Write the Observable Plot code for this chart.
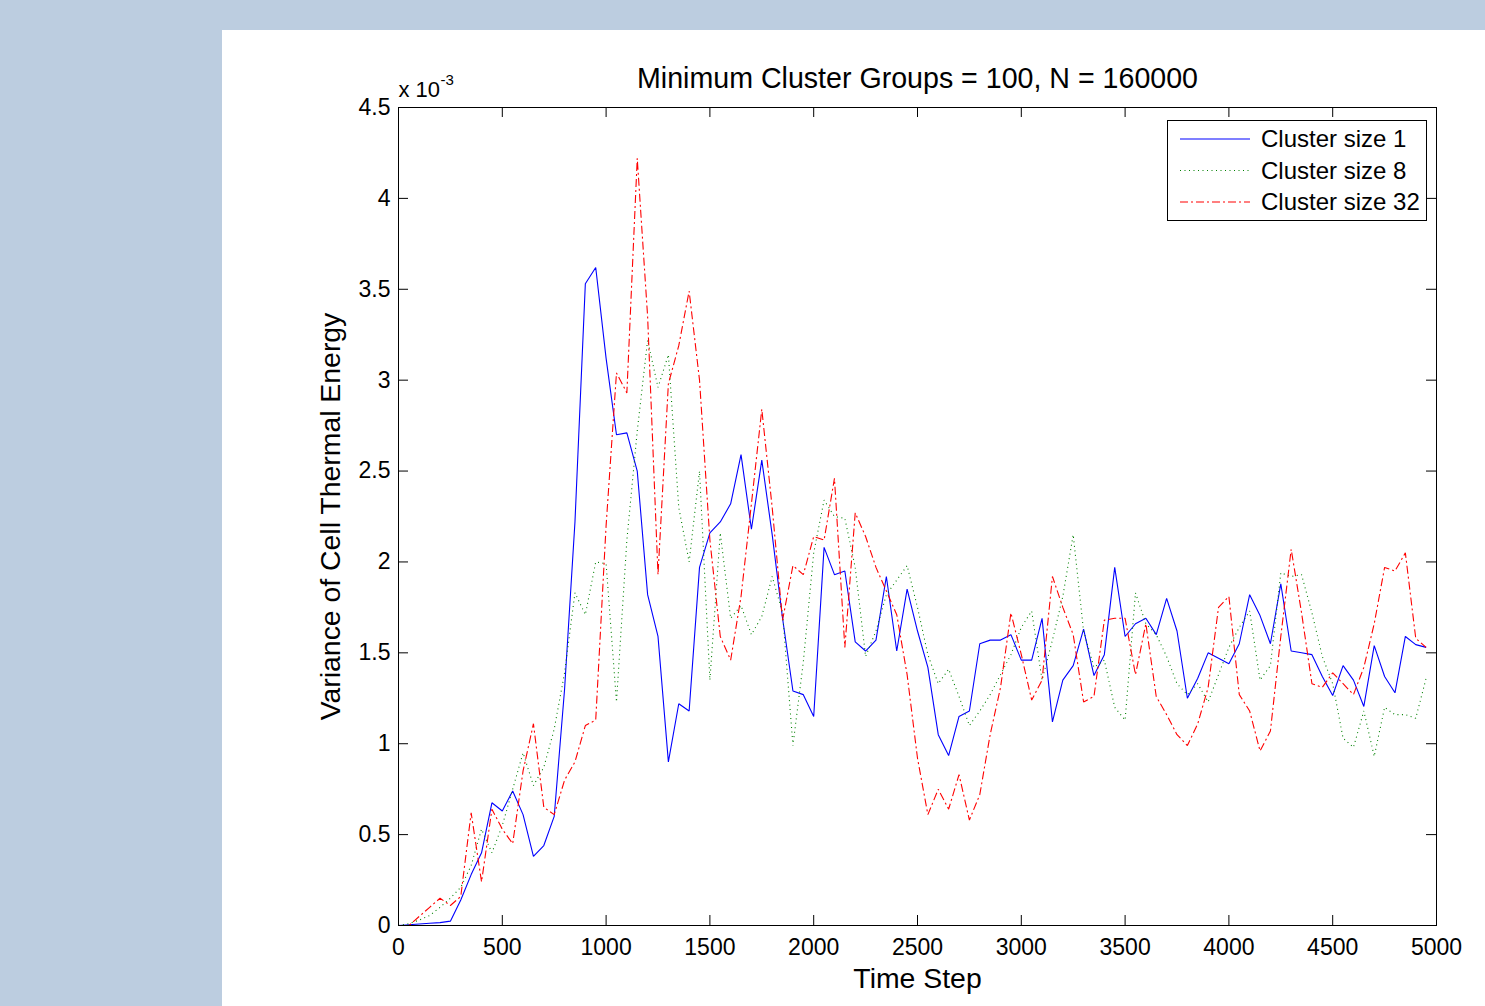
<!DOCTYPE html>
<html>
<head>
<meta charset="utf-8">
<script src="https://cdn.jsdelivr.net/npm/d3@7"></script>
<script src="https://cdn.jsdelivr.net/npm/@observablehq/plot@0.6"></script>
<style>
  html, body { margin: 0; padding: 0; }
  body { width: 1485px; height: 1006px; background: #bccde0; position: relative; overflow: hidden; }
  #panel { position: absolute; left: 222px; top: 30px; width: 1263px; height: 976px; background: #ffffff; }
  #legend { position: absolute; left: 0; top: 0; pointer-events: none; }
</style>
</head>
<body>
<div id="panel"></div>
<script>
// ---- data (values in units of 10^-3) ----
const steps = [0,50,100,150,200,250,300,350,400,450,500,550,600,650,700,750,800,850,900,950,
  1000,1050,1100,1150,1200,1250,1300,1350,1400,1450,1500,1550,1600,1650,1700,1750,1800,1850,1900,1950,
  2000,2050,2100,2150,2200,2250,2300,2350,2400,2450,2500,2550,2600,2650,2700,2750,2800,2850,2900,2950,
  3000,3050,3100,3150,3200,3250,3300,3350,3400,3450,3500,3550,3600,3650,3700,3750,3800,3850,3900,3950,
  4000,4050,4100,4150,4200,4250,4300,4350,4400,4450,4500,4550,4600,4650,4700,4750,4800,4850,4900,4950];

const size1 = [0,0.004,0.008,0.012,0.016,0.024,0.14,0.28,0.40,0.675,0.63,0.74,0.61,0.38,0.44,0.60,1.30,2.22,3.53,3.62,
  3.12,2.70,2.71,2.50,1.82,1.59,0.90,1.22,1.18,1.97,2.16,2.22,2.32,2.59,2.18,2.56,2.15,1.69,1.29,1.27,
  1.15,2.08,1.93,1.95,1.56,1.51,1.57,1.92,1.51,1.85,1.62,1.42,1.05,0.935,1.15,1.18,1.55,1.57,1.57,1.60,
  1.46,1.46,1.69,1.12,1.35,1.43,1.63,1.375,1.49,1.97,1.59,1.66,1.69,1.60,1.80,1.62,1.25,1.36,1.50,1.47,
  1.44,1.55,1.82,1.705,1.55,1.88,1.51,1.50,1.49,1.37,1.265,1.43,1.35,1.205,1.54,1.37,1.28,1.59,1.545,1.53];

const size8 = [0,0.01,0.03,0.055,0.10,0.15,0.21,0.33,0.53,0.40,0.55,0.75,0.95,0.77,0.87,1.08,1.39,1.83,1.71,2.0,
  1.99,1.23,2.12,2.72,3.22,2.96,3.14,2.3,2.0,2.5,1.35,2.16,1.69,1.76,1.60,1.70,1.92,1.72,0.99,1.45,
  2.05,2.34,2.25,2.24,1.97,1.48,1.62,1.82,1.90,1.98,1.75,1.49,1.33,1.41,1.26,1.10,1.18,1.27,1.38,1.49,
  1.64,1.73,1.35,1.57,1.81,2.15,1.62,1.42,1.46,1.20,1.13,1.83,1.66,1.60,1.48,1.33,1.27,1.33,1.23,1.38,
  1.53,1.64,1.73,1.35,1.43,1.94,1.92,1.93,1.72,1.48,1.33,1.03,0.98,1.18,0.93,1.20,1.16,1.16,1.14,1.36];

const size32 = [0,0,0.05,0.10,0.15,0.11,0.16,0.62,0.24,0.64,0.53,0.45,0.85,1.11,0.65,0.61,0.80,0.90,1.10,1.13,
  2.2,3.04,2.93,4.22,3.35,1.93,2.98,3.19,3.49,3.0,2.12,1.59,1.46,1.81,2.32,2.84,2.3,1.68,1.98,1.93,
  2.14,2.12,2.46,1.53,2.27,2.14,1.97,1.84,1.71,1.38,0.92,0.61,0.75,0.64,0.83,0.58,0.72,1.05,1.31,1.72,
  1.49,1.24,1.35,1.92,1.75,1.60,1.23,1.26,1.68,1.69,1.69,1.38,1.66,1.26,1.16,1.05,0.99,1.11,1.31,1.75,
  1.81,1.27,1.18,0.96,1.07,1.59,2.07,1.72,1.33,1.31,1.39,1.33,1.27,1.42,1.66,1.97,1.95,2.05,1.58,1.53];

const seriesNames = ["Cluster size 1", "Cluster size 8", "Cluster size 32"];
const xTicks = [0,500,1000,1500,2000,2500,3000,3500,4000,4500,5000];
const yTicks = [0,0.5,1,1.5,2,2.5,3,3.5,4,4.5];
const titleText = "Minimum Cluster Groups = 100, N = 160000";
const xLabel = "Time Step";
const yLabel = "Variance of Cell Thermal Energy";
const exponentBase = "x 10";
const exponentPower = "-3";

// ---- styles ----
const styles = [
  {stroke: "#0000ff", dash: null},
  {stroke: "#008000", dash: "1,3.5"},
  {stroke: "#ff0000", dash: "8,3,2,3"}
];
const FONT = "'Liberation Sans', Arial, Helvetica, sans-serif";

const series = [size1, size8, size32];
const table = series.map((vals, i) => steps.map((s, j) => ({step: s, v: vals[j], name: seriesNames[i]})));

const W = 1263, H = 976, ML = 176, MR = 49, MT = 77, MB = 81;
const innerW = W - ML - MR, innerH = H - MT - MB;
const TICK = 10;

const chart = Plot.plot({
  width: W, height: H,
  marginLeft: ML, marginRight: MR, marginTop: MT, marginBottom: MB,
  style: {background: "transparent", fontFamily: FONT, fontSize: "23px", color: "black", overflow: "visible"},
  x: {domain: [0, 5000], label: null},
  y: {domain: [0, 4.5], label: null},
  marks: [
    ...table.map((d, i) => Plot.line(d, {x: "step", y: "v", stroke: styles[i].stroke, strokeWidth: 1.1,
      strokeDasharray: styles[i].dash, strokeLinejoin: "miter", strokeLinecap: "butt"})),
    Plot.frame({stroke: "#000", strokeWidth: 1}),
    // inward tick marks on all four sides
    Plot.ruleX(xTicks, {x: d => d, insetTop: innerH - TICK, stroke: "#000"}),
    Plot.ruleX(xTicks, {x: d => d, insetBottom: innerH - TICK, stroke: "#000"}),
    Plot.ruleY(yTicks, {y: d => d, insetRight: innerW - TICK, stroke: "#000"}),
    Plot.ruleY(yTicks, {y: d => d, insetLeft: innerW - TICK, stroke: "#000"}),
    Plot.axisX({ticks: xTicks, tickSize: 0, tickPadding: 13, tickFormat: d => `${d}`, label: null, fontSize: 23}),
    Plot.axisY({ticks: yTicks, tickSize: 0, tickPadding: 8, tickFormat: d => `${d}`, label: null, fontSize: 23}),
    Plot.text([titleText], {frameAnchor: "top", dy: -29, lineAnchor: "middle", fontSize: 28.6, fill: "#000"}),
    Plot.text([xLabel], {frameAnchor: "bottom", dy: 53, lineAnchor: "middle", fontSize: 28.4, fill: "#000"}),
    Plot.text([yLabel], {frameAnchor: "left", dx: -68, rotate: -90, textAnchor: "middle", lineAnchor: "middle", fontSize: 28.4, fill: "#000"}),
    Plot.text([exponentBase], {frameAnchor: "top-left", dx: 0, dy: -18, textAnchor: "start", lineAnchor: "middle", fontSize: 22, fill: "#000"}),
    Plot.text([exponentPower], {frameAnchor: "top-left", dx: 42, dy: -27, textAnchor: "start", lineAnchor: "middle", fontSize: 15, fill: "#000"})
  ]
});
const panel = document.getElementById("panel");
panel.appendChild(chart);

// ---- legend overlay ----
const lg = d3.select(panel).append("svg").attr("id", "legend").attr("width", W).attr("height", H)
  .style("font-family", FONT);
const box = {x: 945.5, y: 90.5, w: 259, h: 100};
lg.append("rect").attr("x", box.x).attr("y", box.y).attr("width", box.w).attr("height", box.h)
  .attr("fill", "#fff").attr("stroke", "#000").attr("stroke-width", 1);
seriesNames.forEach((name, i) => {
  const cy = 109 + i * 31.5;
  lg.append("line").attr("x1", 958).attr("x2", 1028).attr("y1", cy).attr("y2", cy)
    .attr("stroke", styles[i].stroke).attr("stroke-width", 1.1)
    .attr("stroke-dasharray", styles[i].dash);
  lg.append("text").attr("x", 1039).attr("y", cy).attr("dy", "0.35em")
    .attr("font-size", 24).attr("fill", "#000").text(name);
});
</script>
</body>
</html>
